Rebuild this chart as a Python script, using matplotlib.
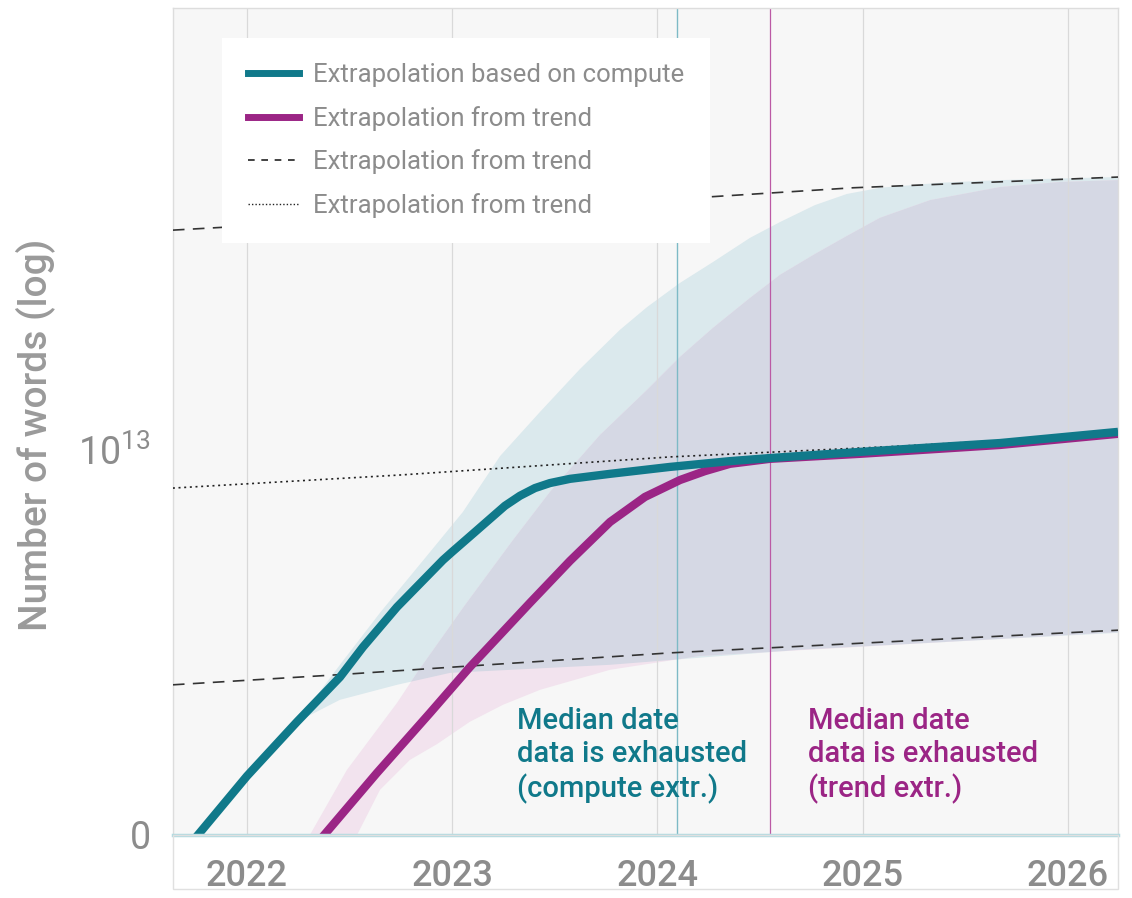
import numpy as np
import matplotlib
matplotlib.use("Agg")
import matplotlib.pyplot as plt
from matplotlib.patches import Rectangle

plt.rcParams['font.family'] = ['Roboto', 'DejaVu Sans']
plt.rcParams['mathtext.fontset'] = 'custom'
plt.rcParams['mathtext.rm'] = 'Roboto'

# values: x in years, y as log10(number of words)
compute_x = [2021.708, 2022.0, 2022.244, 2022.453, 2022.565, 2022.731, 2022.955, 2022.999,
             2023.111, 2023.184, 2023.257, 2023.330, 2023.403, 2023.476, 2023.574, 2023.769,
             2024.061, 2024.353, 2024.548, 2024.987, 2025.669, 2026.244]
compute_log = [11.966, 12.153, 12.294, 12.410, 12.488, 12.592, 12.714, 12.735,
               12.787, 12.821, 12.855, 12.881, 12.901, 12.914, 12.925, 12.938,
               12.956, 12.971, 12.979, 12.995, 13.018, 13.047]

trend_x = [2022.322, 2022.633, 2022.892, 2023.086, 2023.379, 2023.574, 2023.769, 2023.939,
           2024.110, 2024.231, 2024.353, 2024.548, 2024.987, 2025.669, 2026.244]
trend_log = [11.966, 12.161, 12.317, 12.436, 12.603, 12.712, 12.813, 12.878,
             12.922, 12.945, 12.964, 12.977, 12.990, 13.013, 13.042]

dash_hi_x = [2021.639, 2023.0, 2024.241, 2024.952, 2026.249]
dash_hi_log = [13.571, 13.612, 13.657, 13.681, 13.709]
dash_lo_x = [2021.639, 2022.438, 2023.088, 2024.063, 2026.249]
dash_lo_log = [12.390, 12.416, 12.439, 12.473, 12.532]
dot_x = [2021.639, 2022.747, 2024.063, 2025.185, 2026.249]
dot_log = [12.901, 12.935, 12.982, 13.010, 13.042]

# uncertainty bands
compute_hi_x = [2022.244, 2022.453, 2022.648, 2022.892, 2023.052, 2023.233, 2023.428, 2023.622,
                2023.817, 2023.949, 2024.110, 2024.270, 2024.451, 2024.597, 2024.767, 2024.923,
                2025.084, 2025.376, 2025.669, 2026.244]
compute_hi_log = [12.294, 12.442, 12.577, 12.735, 12.839, 12.984, 13.099, 13.210,
                  13.312, 13.371, 13.434, 13.488, 13.551, 13.592, 13.636, 13.665,
                  13.681, 13.694, 13.701, 13.709]
compute_lo_x = [2022.244, 2022.453, 2022.731, 2022.989, 2023.769, 2024.694, 2026.244]
compute_lo_log = [12.294, 12.351, 12.390, 12.421, 12.442, 12.481, 12.525]

trend_hi_x = [2022.268, 2022.487, 2022.731, 2022.828, 2023.062, 2023.296, 2023.476, 2023.720,
              2023.949, 2024.110, 2024.270, 2024.451, 2024.597, 2024.767, 2024.923, 2025.084,
              2025.328, 2025.669, 2025.961, 2026.244]
trend_hi_log = [11.964, 12.169, 12.343, 12.421, 12.597, 12.766, 12.891, 13.039,
                13.156, 13.242, 13.317, 13.395, 13.455, 13.509, 13.556, 13.603,
                13.649, 13.683, 13.696, 13.701]
trend_lo_x = [2022.502, 2022.648, 2022.794, 2022.926, 2023.086, 2023.247, 2023.428, 2023.769,
              2024.207, 2026.244]
trend_lo_log = [11.964, 12.117, 12.195, 12.236, 12.294, 12.338, 12.377, 12.429,
                12.465, 12.527]

years = [2022, 2023, 2024, 2025, 2026]
median_compute = 2024.095
median_trend = 2024.548

legend_labels = ["Extrapolation based on compute", "Extrapolation from trend",
                 "Extrapolation from trend", "Extrapolation from trend"]

TEAL = '#10798a'
MAGENTA = '#9b2585'
GREY = '#8c8c8c'


def pw(vals):
    return 10 ** np.asarray(vals)


fig = plt.figure(figsize=(11.32, 8.98), dpi=100)
ax = fig.add_axes([0.1528, 0.0702, 0.8348, 0.9209])
ax.set_facecolor('#f7f7f7')
ax.set_yscale('log')
ax.set_xlim(2021.6395, 2026.2436)
ax.set_ylim(1e12, 10 ** 14.148)

# bands
poly_x = np.r_[compute_hi_x, compute_lo_x[::-1]]
poly_y = pw(np.r_[compute_hi_log, compute_lo_log[::-1]])
teal_band = ax.fill(poly_x, poly_y, color='#dbe9ed', lw=0, zorder=1)[0]
tx = np.r_[trend_hi_x, trend_lo_x[::-1]]
ty = pw(np.r_[trend_hi_log, trend_lo_log[::-1]])
ax.fill(tx, ty, color='#f2e3ee', lw=0, zorder=1)
overlap = ax.fill(tx, ty, color='#d5d8e4', lw=0, zorder=1.5)[0]
overlap.set_clip_path(teal_band)

for yr in years:
    ax.axvline(yr, color='#d9d9d9', lw=0.9, zorder=2)
ax.axvline(median_compute, color='#7dbac6', lw=1.0, zorder=2)
ax.axvline(median_trend, color='#bb5aa5', lw=0.9, zorder=2)

ax.plot(dash_hi_x, pw(dash_hi_log), color='#333333', lw=1.2, dashes=(7, 5), zorder=3)
ax.plot(dash_lo_x, pw(dash_lo_log), color='#333333', lw=1.2, dashes=(7, 5), zorder=3)
ax.plot(dot_x, pw(dot_log), color='#222222', lw=1.2, dashes=(1.2, 2.2), zorder=3)

ax.plot(trend_x, pw(trend_log), color=MAGENTA, lw=6, solid_capstyle='butt',
        solid_joinstyle='round', zorder=4)
ax.plot(compute_x, pw(compute_log), color=TEAL, lw=6, solid_capstyle='butt',
        solid_joinstyle='round', zorder=5)

# legend with its own handles
h1, = ax.plot([], [], color=TEAL, lw=5)
h2, = ax.plot([], [], color=MAGENTA, lw=5)
h3, = ax.plot([], [], color='#222222', lw=1.2, dashes=(4, 4))
h4, = ax.plot([], [], color='#222222', lw=1.0, dashes=(1, 1.5))
leg = ax.legend([h1, h2, h3, h4], legend_labels, loc='upper left',
                bbox_to_anchor=(0.052, 0.964), fontsize=18.5, frameon=True,
                fancybox=False, borderpad=1.0, labelspacing=0.72,
                handlelength=2.0, handletextpad=0.55, borderaxespad=0)
leg.get_frame().set_facecolor('white')
leg.get_frame().set_edgecolor('none')
leg.get_frame().set_alpha(1)
leg.set_zorder(10)
for t in leg.get_texts():
    t.set_color(GREY)

ax.text(2023.315, 0.155, "Median date\ndata is exhausted\n(compute extr.)",
        transform=ax.get_xaxis_transform(), color=TEAL, fontsize=21,
        fontweight='medium', va='top', ha='left', linespacing=1.24, zorder=6)
ax.text(2024.733, 0.155, "Median date\ndata is exhausted\n(trend extr.)",
        transform=ax.get_xaxis_transform(), color=MAGENTA, fontsize=21,
        fontweight='medium', va='top', ha='left', linespacing=1.24, zorder=6)

ax.set_xticks(years)
ax.set_xticklabels([str(y) for y in years], fontweight='medium')
ax.set_yticks([1e12, 1e13])
ax.set_yticklabels(['0', r'$\mathregular{10^{13}}$'])
ax.yaxis.set_minor_locator(plt.NullLocator())
ax.tick_params(axis='x', length=0, pad=17, labelsize=26, labelcolor=GREY)
ax.tick_params(axis='y', length=0, pad=16, labelsize=27, labelcolor=GREY)

ax.set_ylabel("Number of words (log)", fontsize=28, color='#9a9a9a', fontweight='medium')
ax.yaxis.set_label_coords(-0.125, 0.484)

for s in ['left', 'top', 'right']:
    ax.spines[s].set_color('#dddddd')
    ax.spines[s].set_linewidth(1)
ax.spines['bottom'].set_color('#b3dbe1')
ax.spines['bottom'].set_linewidth(2.5)
ax.spines['bottom'].set_zorder(7)

# white strip with frame under the x axis
fig.patches.append(Rectangle((173 / 1132, (898 - 889) / 898), 945 / 1132, 54 / 898,
                             transform=fig.transFigure, facecolor='none',
                             edgecolor='#e0e0e0', lw=1))

fig.savefig('out.png', dpi=100)
